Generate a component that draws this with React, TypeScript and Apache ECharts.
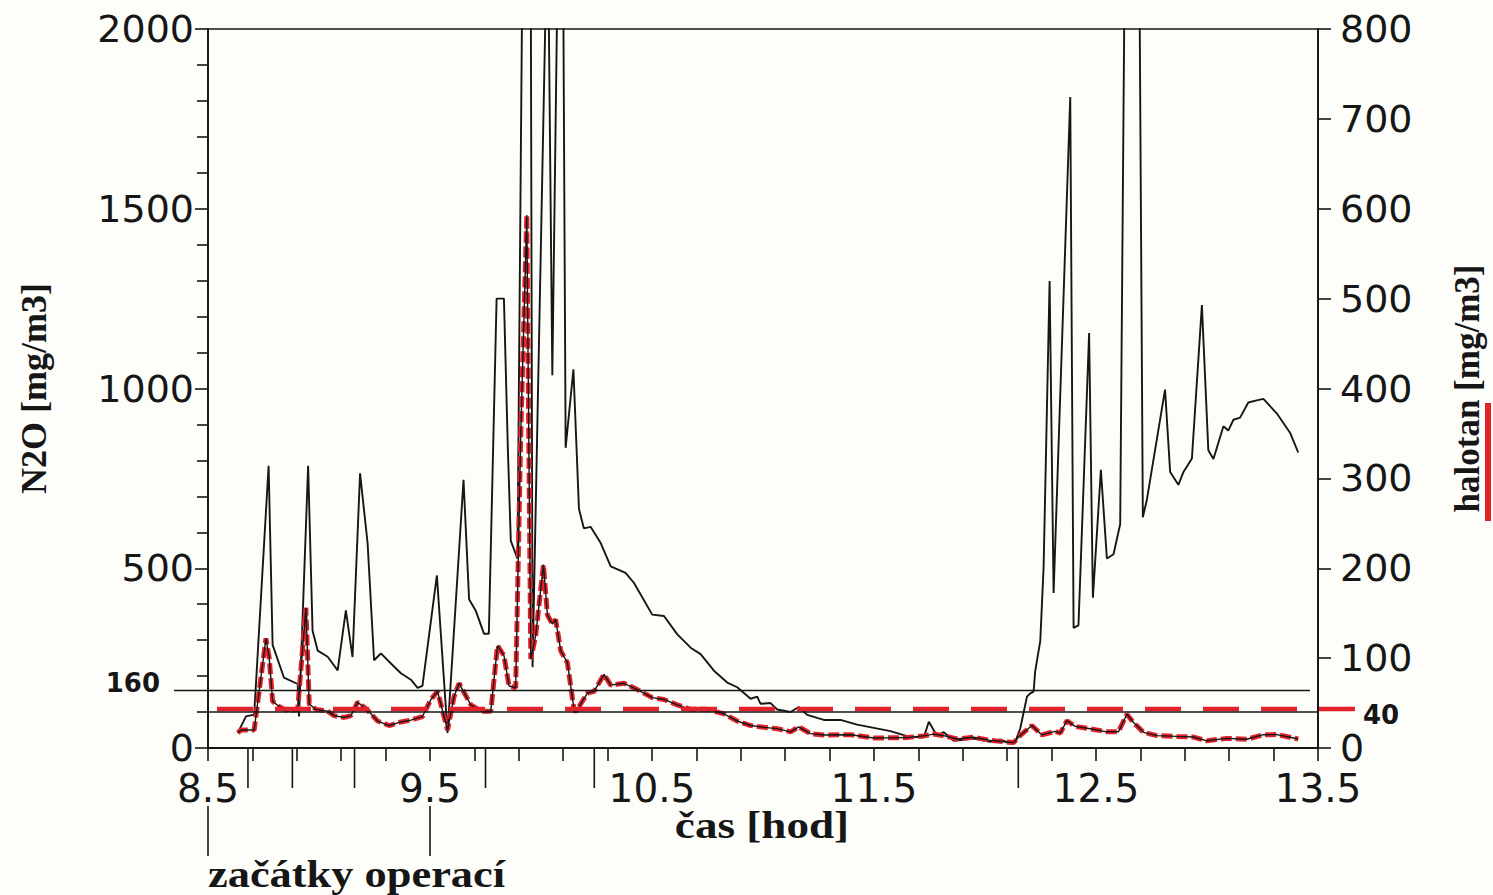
import React, { useEffect, useRef } from "react";
import * as echarts from "echarts";

// ---- data (hours, mg/m3) ----
const N2O_TIME = [
  8.634, 8.671, 8.708, 8.773, 8.791, 8.842, 8.904, 8.91, 8.951, 8.971, 8.994, 9.039, 9.084, 9.121, 9.151,
  9.185, 9.219, 9.248, 9.279, 9.324, 9.369, 9.414, 9.444, 9.466, 9.531, 9.579, 9.651, 9.676, 9.706, 9.743,
  9.765, 9.8, 9.833, 9.851, 9.864, 9.894, 9.922, 9.952, 9.962, 10.03, 10.051, 10.082, 10.097, 10.111, 10.146,
  10.171, 10.193, 10.224, 10.269, 10.314, 10.381, 10.419, 10.501, 10.554, 10.614, 10.674, 10.719, 10.779,
  10.839, 10.884, 10.944, 10.974, 10.989, 11.034, 11.064, 11.124, 11.161, 11.199, 11.274, 11.349, 11.424,
  11.499, 11.574, 11.649, 11.724, 11.747, 11.784, 11.814, 11.859, 11.949, 12.024, 12.069, 12.114, 12.136,
  12.159, 12.189, 12.204, 12.219, 12.226, 12.249, 12.264, 12.291, 12.309, 12.384, 12.399, 12.421, 12.469,
  12.486, 12.522, 12.549, 12.579, 12.609, 12.636, 12.69, 12.711, 12.729, 12.811, 12.834, 12.871, 12.894,
  12.932, 12.977, 13.006, 13.029, 13.074, 13.096, 13.119, 13.149, 13.186, 13.224, 13.254, 13.314, 13.374, 13.411,
];
const N2O_VALUES = [
  42, 88, 93, 785, 287, 196, 178, 88, 785, 326, 271, 254, 216, 383, 253,
  764, 569, 244, 263, 235, 208, 190, 167, 173, 480, 42, 746, 414, 382, 318,
  318, 1250, 1250, 826, 576, 527, 2600, 2600, 225, 2350, 1037, 2500, 2500, 835, 1053,
  665, 611, 615, 570, 505, 487, 459, 371, 367, 316, 279, 261, 215,
  182, 169, 137, 143, 123, 125, 107, 100, 114, 92, 78, 78, 65,
  56, 47, 33, 29, 73, 34, 44, 20, 26, 17, 24, 12, 17,
  55, 143, 152, 157, 213, 298, 503, 1299, 431, 1811, 334, 341, 1154,
  418, 774, 527, 539, 623, 2700, 2700, 642, 690, 997, 768, 732, 768,
  805, 1232, 828, 804, 895, 883, 913, 919, 961, 967, 971, 931, 877, 822,
];

const HALOTAN_TIME = [
  8.634, 8.649, 8.708, 8.761, 8.776, 8.791, 8.821, 8.859, 8.904, 8.941, 8.956, 8.986, 9.039, 9.068, 9.113,
  9.144, 9.174, 9.219, 9.264, 9.316, 9.369, 9.414, 9.466, 9.504, 9.534, 9.556, 9.579, 9.608, 9.631, 9.684,
  9.729, 9.774, 9.804, 9.833, 9.856, 9.886, 9.909, 9.936, 9.954, 9.976, 10.011, 10.029, 10.051, 10.066, 10.089,
  10.119, 10.148, 10.156, 10.209, 10.239, 10.284, 10.314, 10.374, 10.434, 10.501, 10.554, 10.614, 10.674,
  10.749, 10.824, 10.884, 10.944, 11.004, 11.064, 11.124, 11.161, 11.214, 11.274, 11.394, 11.499, 11.574,
  11.649, 11.724, 11.769, 11.814, 11.874, 11.949, 12.024, 12.084, 12.129, 12.159, 12.211, 12.256, 12.316,
  12.339, 12.369, 12.406, 12.474, 12.549, 12.601, 12.639, 12.669, 12.714, 12.774, 12.864, 12.939, 12.999,
  13.089, 13.179, 13.254, 13.314, 13.374, 13.411,
];
const HALOTAN_VALUES = [
  17, 20, 20, 122, 100, 52, 46, 41, 43, 156, 49, 43, 41, 36, 34,
  36, 51, 42, 30, 25, 29, 31, 35, 54, 63, 42, 20, 57, 72, 48,
  41, 41, 114, 103, 69, 67, 351, 593, 99, 125, 204, 148, 138, 143, 108,
  95, 44, 40, 61, 63, 82, 70, 72, 65, 56, 54, 48, 43,
  43, 38, 30, 25, 23, 21.5, 18, 23.5, 16, 14.5, 14.7, 11.2, 11.3,
  11.6, 13.5, 15.5, 13.7, 10, 12, 8.5, 7, 6, 14, 25, 14.6, 18.5,
  16.6, 30.4, 24, 21.4, 18, 18, 37.5, 28.4, 17.4, 13.8, 12.9, 12.2, 8,
  10.7, 9.7, 14.8, 14.9, 12, 10,
];

const X_LABELS = [8.5, 9.5, 10.5, 11.5, 12.5, 13.5];
const X_TICKS = [
  8.5, 8.7, 8.9, 9.1, 9.3, 9.5, 9.7, 9.9, 10.1, 10.3, 10.5, 10.7, 10.9, 11.1, 11.3,
  11.5, 11.7, 11.9, 12.1, 12.3, 12.5, 12.7, 12.9, 13.1, 13.3, 13.5,
];
const OPERATION_STARTS = [8.68, 8.88, 9.16, 9.75, 10.24, 12.15];
const OPERATION_MARKERS = [8.5, 9.5];
const N2O_LIMIT = 160;
const HALOTAN_LIMIT = 40;
const X_MIN = 8.5;
const X_MAX = 13.5;

const INK = "#161616";
const RED = "#e3232c";
const SANS = '"DejaVu Sans", sans-serif';
const SERIF = '"Liberation Serif", "DejaVu Serif", serif';

export default function App() {
  const ref = useRef<HTMLDivElement | null>(null);

  useEffect(() => {
    if (!ref.current) return;
    const chart = echarts.init(ref.current, null, { renderer: "svg" });

    const n2o = N2O_TIME.map((t, i) => [t, N2O_VALUES[i]]);
    const hal = HALOTAN_TIME.map((t, i) => [t, HALOTAN_VALUES[i]]);

    const axisLine = { show: true, lineStyle: { color: INK, width: 1.8 } };
    const plain = (v: number) => String(v);

    chart.setOption({
      animation: false,
      backgroundColor: "#fdfdf9",
      grid: {
        left: 208,
        right: 175,
        top: 29,
        bottom: 147,
        show: true,
        borderColor: INK,
        borderWidth: 1.6,
        backgroundColor: "transparent",
      },
      xAxis: {
        type: "value",
        min: X_MIN,
        max: X_MAX,
        axisLine: { ...axisLine, onZero: false },
        axisTick: { show: true, length: 13, lineStyle: { color: INK, width: 1.6 }, customValues: X_TICKS },
        axisLabel: {
          customValues: X_LABELS,
          formatter: (v: number) => v.toFixed(1),
          fontFamily: SANS,
          fontSize: 39,
          lineHeight: 30,
          color: INK,
          margin: 25,
        },
        splitLine: { show: false },
      },
      yAxis: [
        {
          type: "value",
          min: 0,
          max: 2000,
          interval: 500,
          position: "left",
          axisLine,
          axisTick: { show: true, length: 13, lineStyle: { color: INK, width: 1.6 } },
          minorTick: { show: true, splitNumber: 5, length: 11, lineStyle: { color: INK, width: 1.6 } },
          axisLabel: { fontFamily: SANS, fontSize: 38, lineHeight: 28, color: INK, margin: 14, formatter: plain },
          splitLine: { show: false },
          name: "N2O [mg/m3]",
          nameLocation: "middle",
          nameRotate: 90,
          nameGap: 156,
          nameTextStyle: { fontFamily: SERIF, fontWeight: "bold", fontSize: 36, color: INK },
        },
        {
          type: "value",
          min: 0,
          max: 800,
          interval: 100,
          position: "right",
          axisLine,
          axisTick: { show: true, length: 13, lineStyle: { color: INK, width: 1.6 } },
          axisLabel: { fontFamily: SANS, fontSize: 38, lineHeight: 28, color: INK, margin: 22, formatter: plain },
          splitLine: { show: false },
          name: "halotan [mg/m3]",
          nameLocation: "middle",
          nameRotate: 90,
          nameGap: 132,
          nameTextStyle: { fontFamily: SERIF, fontWeight: "bold", fontSize: 35, color: INK },
        },
      ],
      graphic: [
        { type: "rect", left: 1485, top: 403, shape: { width: 6, height: 118 }, style: { fill: RED } },
        {
          type: "text",
          x: 762,
          y: 825,
          scaleX: 1.22,
          style: {
            text: "čas [hod]",
            font: `bold 37px ${SERIF}`,
            fill: INK,
            textAlign: "center",
            align: "center",
            textVerticalAlign: "middle",
            verticalAlign: "middle",
          },
        },
      ],
      series: [
        {
          name: "N2O",
          type: "line",
          yAxisIndex: 0,
          data: n2o,
          showSymbol: false,
          symbol: "none",
          clip: true,
          lineStyle: { color: INK, width: 1.9 },
          z: 3,
        },
        {
          name: "halotan (red)",
          type: "line",
          yAxisIndex: 1,
          data: hal,
          symbol: "none",
          clip: true,
          lineStyle: { color: RED, width: 5, type: [11, 4] },
          z: 4,
        },
        {
          name: "halotan",
          type: "line",
          yAxisIndex: 1,
          data: hal,
          symbol: "none",
          clip: true,
          lineStyle: { color: INK, width: 1.4 },
          z: 5,
        },
        {
          name: "N2O limit",
          type: "custom",
          yAxisIndex: 0,
          silent: true,
          clip: false,
          data: [[X_MIN, N2O_LIMIT]],
          renderItem: (_p: any, api: any) => {
            const a = api.coord([X_MIN, api.value(1)]);
            const b = api.coord([X_MAX, api.value(1)]);
            return {
              type: "group",
              children: [
                { type: "line", shape: { x1: a[0] - 34, y1: a[1], x2: b[0] - 8, y2: b[1] }, style: { stroke: INK, lineWidth: 1.6 } },
                {
                  type: "text",
                  style: {
                    text: String(N2O_LIMIT), x: a[0] - 48, y: a[1] - 7,
                    textAlign: "right", align: "right", textVerticalAlign: "middle", verticalAlign: "middle",
                    font: `bold 26px ${SANS}`, fill: INK,
                  },
                },
              ],
            };
          },
          z: 6,
        },
        {
          name: "halotan limit",
          type: "custom",
          yAxisIndex: 1,
          silent: true,
          clip: false,
          data: [[X_MIN, HALOTAN_LIMIT]],
          renderItem: (_p: any, api: any) => {
            const a = api.coord([X_MIN, api.value(1)]);
            const b = api.coord([X_MAX, api.value(1)]);
            return {
              type: "group",
              children: [
                { type: "line", shape: { x1: a[0] + 9, y1: a[1] - 3, x2: b[0] + 37, y2: b[1] - 3 }, style: { stroke: RED, lineWidth: 4.5, lineDash: [36, 22] } },
                { type: "line", shape: { x1: a[0], y1: a[1], x2: b[0], y2: b[1] }, style: { stroke: INK, lineWidth: 1.6 } },
                {
                  type: "text",
                  style: {
                    text: String(HALOTAN_LIMIT), x: b[0] + 45, y: b[1] + 3,
                    textAlign: "left", align: "left", textVerticalAlign: "middle", verticalAlign: "middle",
                    font: `bold 26px ${SANS}`, fill: INK,
                  },
                },
              ],
            };
          },
          z: 6,
        },
        {
          name: "operation starts",
          type: "custom",
          yAxisIndex: 0,
          silent: true,
          clip: false,
          data: OPERATION_STARTS.map((t) => [t, 0]),
          renderItem: (_p: any, api: any) => {
            const p = api.coord([api.value(0), 0]);
            return { type: "line", shape: { x1: p[0], y1: p[1], x2: p[0], y2: p[1] + 40 }, style: { stroke: INK, lineWidth: 1.6 } };
          },
          z: 6,
        },
        {
          name: "operation markers",
          type: "custom",
          yAxisIndex: 0,
          silent: true,
          clip: false,
          data: OPERATION_MARKERS.map((t) => [t, 0]),
          renderItem: (params: any, api: any) => {
            const p = api.coord([api.value(0), 0]);
            const children: any[] = [
              { type: "line", shape: { x1: p[0], y1: p[1] + 58, x2: p[0], y2: p[1] + 108 }, style: { stroke: INK, lineWidth: 1.6 } },
            ];
            if (params.dataIndex === 0) {
              children.push({
                type: "text",
                x: p[0],
                y: p[1] + 127,
                scaleX: 1.2,
                style: {
                  text: "začátky operací", x: 0, y: 0,
                  textAlign: "left", align: "left", textVerticalAlign: "middle", verticalAlign: "middle",
                  font: `bold 37px ${SERIF}`, lineHeight: 36, fill: INK,
                },
              });
            }
            return { type: "group", children };
          },
          z: 6,
        },
      ],
    });

    return () => chart.dispose();
  }, []);

  return <div ref={ref} style={{ position: "fixed", left: 0, top: 0, width: 1493, height: 895 }} />;
}
